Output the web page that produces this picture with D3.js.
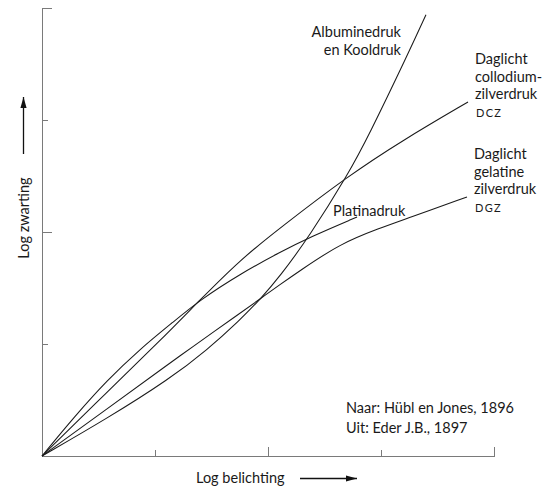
<!DOCTYPE html>
<html>
<head>
<meta charset="utf-8">
<script src="https://cdn.jsdelivr.net/npm/d3@7"></script>
<style>
  body { margin: 0; background: #fff; }
  svg { display: block; font-family: Lato, "Open Sans", sans-serif; }
  .curve { fill: none; stroke: #1a1a1a; stroke-width: 1.05; }
  .axis path, .axis line { stroke: #7a7a7a; stroke-width: 1.6; }
  .lbl { font-size: 14.5px; fill: #1a1a1a; }
  .sc { font-size: 11px; letter-spacing: 1.3px; }
</style>
</head>
<body>
<svg id="chart" width="553" height="489"></svg>
<script>
// ticks (log units) on both axes, no tick labels in the original
const xTicks = [1, 2, 3, 4];
const yTicks = [1, 2, 3, 4];

// curves: [log belichting, log zwarting]
const platinadruk = [[0, 0], [0.29, 0.355], [0.575, 0.675], [0.867, 0.955], [1.159, 1.195], [1.398, 1.393],
  [1.752, 1.625], [2.106, 1.82], [2.372, 1.955], [2.788, 2.134]];
const dcz = [[0, 0], [0.575, 0.571], [1.053, 1.036], [1.398, 1.393], [1.752, 1.75], [2.106, 2.036],
  [2.708, 2.5], [3.195, 2.821], [3.77, 3.161]];
const albumine = [[0, 0], [0.575, 0.334], [1.133, 0.691], [1.46, 0.946], [1.752, 1.215], [1.929, 1.397],
  [2.106, 1.604], [2.372, 1.97], [2.708, 2.515], [2.885, 2.847], [3.239, 3.59], [3.398, 3.94]];
const dgz = [[0, 0], [0.575, 0.42], [1.133, 0.83], [1.292, 0.946], [1.752, 1.275], [1.929, 1.402],
  [2.106, 1.53], [2.283, 1.655], [2.637, 1.895], [2.991, 2.035], [3.23, 2.12], [3.761, 2.313]];

const albumineLabel = ["Albuminedruk", "en Kooldruk"];
const dczLabel = ["Daglicht", "collodium-", "zilverdruk"];
const dgzLabel = ["Daglicht", "gelatine", "zilverdruk"];
const sourceLines = ["Naar: Hübl en Jones, 1896", "Uit: Eder J.B., 1897"];

const svg = d3.select("#chart");
const x = d3.scaleLinear().domain([0, 4]).range([42, 494]);
const y = d3.scaleLinear().domain([0, 4]).range([456, 8]);

svg.append("defs").append("marker")
  .attr("id", "arrow").attr("viewBox", "0 0 10 10").attr("refX", 10).attr("refY", 5)
  .attr("markerWidth", 11).attr("markerHeight", 11).attr("markerUnits", "userSpaceOnUse")
  .attr("orient", "auto")
  .append("path").attr("d", "M0,2.2L10,5L0,7.8Z").attr("fill", "#111");

// axes: major ticks at 2 and 4 are longer
const xAxis = svg.append("g").attr("class", "axis").attr("transform", `translate(0,${y(0)})`)
  .call(d3.axisTop(x).tickValues(xTicks).tickSize(6).tickSizeOuter(0).tickFormat(""));
xAxis.selectAll(".tick line").attr("y2", d => d % 2 === 0 ? -9 : -6);
xAxis.selectAll("path, line").attr("shape-rendering", "crispEdges");

const yAxis = svg.append("g").attr("class", "axis").attr("transform", `translate(${x(0)},0)`)
  .call(d3.axisRight(y).tickValues(yTicks).tickSize(6).tickSizeOuter(0).tickFormat(""));
yAxis.selectAll(".tick line").attr("x2", d => d % 2 === 0 ? 10 : 6);
yAxis.selectAll("path, line").attr("shape-rendering", "crispEdges");

// basis keeps the hand-read points smooth
const line = d3.line().x(d => x(d[0])).y(d => y(d[1])).curve(d3.curveBasis);
[platinadruk, dcz, albumine, dgz].forEach(s => {
  svg.append("path").datum(s).attr("class", "curve").attr("d", line);
});

// labels, placed relative to each curve's end point
const end = s => s[s.length - 1];

const aEnd = end(albumine);
svg.selectAll(".albLbl").data(albumineLabel).join("text").attr("class", "lbl")
  .attr("text-anchor", "end").attr("x", x(aEnd[0]) - 25).attr("y", (d, i) => y(aEnd[1]) + 22 + i * 18.5).text(d => d);

function blockLabel(series, lines, code) {
  const e = end(series);
  const g = svg.append("g");
  g.selectAll("text").data(lines).join("text").attr("class", "lbl")
    .attr("x", x(e[0]) + 7).attr("y", (d, i) => y(e[1]) - 38 + i * 17.7).text(d => d);
  g.append("text").attr("class", "lbl sc").attr("x", x(e[0]) + 8).attr("y", y(e[1]) + 15).text(code);
}
blockLabel(dcz, dczLabel, "DCZ");
blockLabel(dgz, dgzLabel, "DGZ");

const pEnd = end(platinadruk);
svg.append("text").attr("class", "lbl").attr("x", x(pEnd[0]) - 24).attr("y", y(pEnd[1]) - 1).text("Platinadruk");

svg.selectAll(".src").data(sourceLines).join("text").attr("class", "lbl")
  .attr("x", 346).attr("y", (d, i) => 413 + i * 20).text(d => d);

// axis titles with arrows
svg.append("text").attr("class", "lbl").attr("x", 196).attr("y", 483).text("Log belichting");
svg.append("line").attr("x1", 300).attr("x2", 357).attr("y1", 478.5).attr("y2", 478.5)
  .attr("stroke", "#111").attr("stroke-width", 1.3).attr("marker-end", "url(#arrow)");

svg.append("text").attr("class", "lbl").attr("text-anchor", "middle")
  .attr("transform", "translate(29,218) rotate(-90)").text("Log zwarting");
svg.append("line").attr("x1", 23.5).attr("x2", 23.5).attr("y1", 154).attr("y2", 97)
  .attr("stroke", "#111").attr("stroke-width", 1.3).attr("marker-end", "url(#arrow)");
</script>
</body>
</html>
